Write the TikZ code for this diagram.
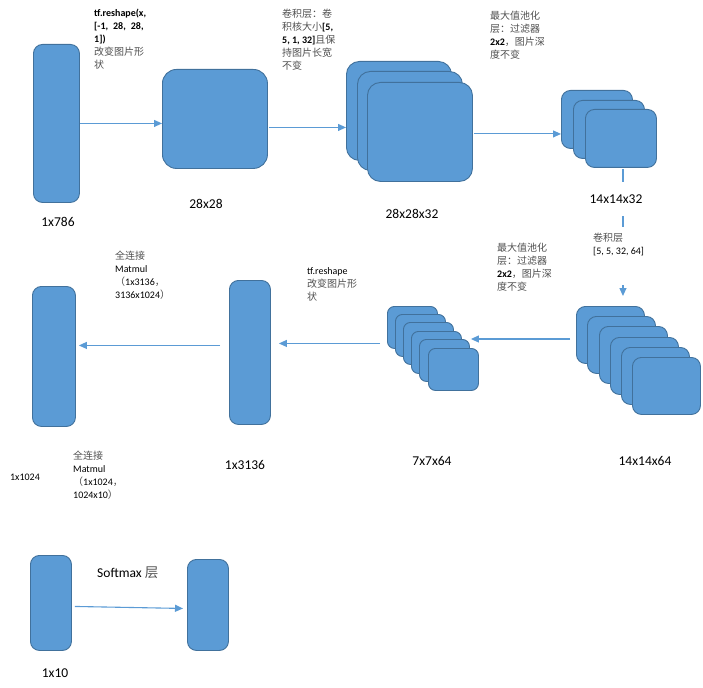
\documentclass[tikz,border=0pt]{standalone}
\usepackage{fontspec}
\setmainfont{Carlito}
\newfontfamily\cjk{Noto Sans CJK SC}
\usetikzlibrary{arrows.meta,calc}
\definecolor{boxfill}{HTML}{5B9BD5}
\definecolor{boxline}{HTML}{41719C}
\definecolor{zhgray}{HTML}{505050}
\newcommand{\zh}[1]{{\cjk\color{zhgray}#1}}
\begin{document}
\begin{tikzpicture}[x=1pt,y=-1pt,
  blk/.style={draw=boxline, fill=boxfill, line width=0.9pt, rounded corners=9pt, anchor=north west, inner sep=0pt},
  arr/.style={draw=boxfill, line width=1.1pt, -{Triangle[length=8pt,width=7pt]}},
  dim/.style={font=\fontsize{13.5}{15}\selectfont, inner sep=1pt},
  note/.style={font=\fontsize{10}{13}\selectfont, align=left, anchor=north west, inner sep=0pt}]
\useasboundingbox (0,0) rectangle (703,687);

% row 1
\node[blk, minimum width=46pt, minimum height=158pt] (b1) at (33,44) {};
\node[blk, rounded corners=14pt, minimum width=105pt, minimum height=99pt] (b2) at (162,69) {};
\node[blk, rounded corners=13pt, minimum width=105pt, minimum height=99pt] (s1a) at (346,61) {};
\node[blk, rounded corners=13pt, minimum width=105pt, minimum height=99pt] (s1b) at (357,71) {};
\node[blk, rounded corners=13pt, minimum width=105pt, minimum height=99pt] (s1c) at (367,82) {};
\node[blk, minimum width=71pt, minimum height=58pt] (s2a) at (561,90) {};
\node[blk, minimum width=71pt, minimum height=58pt] (s2b) at (573,100) {};
\node[blk, minimum width=71pt, minimum height=58pt] (s2c) at (585,109) {};

% row 2
\node[blk, minimum width=68pt, minimum height=57pt] (s3a) at (576,306) {};
\node[blk, minimum width=68pt, minimum height=57pt] (s3b) at (587,316) {};
\node[blk, minimum width=68pt, minimum height=57pt] (s3c) at (599,326) {};
\node[blk, minimum width=68pt, minimum height=57pt] (s3d) at (610,337) {};
\node[blk, minimum width=68pt, minimum height=57pt] (s3e) at (621,347) {};
\node[blk, minimum width=68pt, minimum height=57pt] (s3f) at (632,357) {};
\node[blk, rounded corners=7pt, minimum width=50pt, minimum height=42pt] (s4a) at (387,306) {};
\node[blk, rounded corners=7pt, minimum width=50pt, minimum height=42pt] (s4b) at (395,314) {};
\node[blk, rounded corners=7pt, minimum width=50pt, minimum height=42pt] (s4c) at (403,322) {};
\node[blk, rounded corners=7pt, minimum width=50pt, minimum height=42pt] (s4d) at (411,331) {};
\node[blk, rounded corners=7pt, minimum width=50pt, minimum height=42pt] (s4e) at (419,339) {};
\node[blk, rounded corners=7pt, minimum width=50pt, minimum height=42pt] (s4f) at (428,348) {};
\node[blk, minimum width=41pt, minimum height=144pt] (b5) at (229,280) {};
\node[blk, minimum width=43pt, minimum height=140pt] (b6) at (32,286) {};

% row 3
\node[blk, minimum width=41pt, minimum height=95pt] (b7) at (30,555) {};
\node[blk, minimum width=41pt, minimum height=91pt] (b8) at (187,559) {};

% connectors
\draw[arr] (b1.east) -- (b1.east -| b2.west);
\draw[arr] ($(b2.east)+(1,8.5)$) -- ($(b2.east -| s1a.west)+(0,8.5)$);
\draw[arr] ($(s1c.east)+(1,2)$) -- ($(s1c.east -| s2a.west)+(0,2)$);
\draw[arr, shorten <=1pt, shorten >=10pt] ($(s2c.south)+(2,0)$) -- ($(s2c.south |- s3a.north)+(2,0)$);
\draw[arr] ($(s3a.west |- s4e.north east)+(-6,0)$) -- ($(s4e.north east)+(1,0)$);
\draw[arr] ($(s4a.west |- s4c.west)+(-7,0)$) -- ($(b5.east |- s4c.west)+(8,0)$);
\draw[arr] ($(b5.west)+(-9,-7)$) -- ($(b6.east)+(3,-11)$);
\draw[arr] ($(b7.east)+(3,3.5)$) -- ($(b8.west)+(-4,3.5)$);

% dimension labels
\node[dim] (l1) at (58,222) {1x786};
\node[dim] (l2) at (206,204) {28x28};
\node[dim] (l3) at (412,214) {28x28x32};
\node[dim, fill=white, minimum height=34pt] (l4) at (616,199) {14x14x32};
\node[dim] (l5) at (645,461) {14x14x64};
\node[dim] (l6) at (432,461) {7x7x64};
\node[dim] (l7) at (245,465) {1x3136};
\node[dim, font=\fontsize{10}{12}\selectfont] (l8) at (25,477) {1x1024};
\node[dim] (l9) at (55,673) {1x10};
\node[dim, anchor=west] (l10) at (96,573) {Softmax \zh{层}};

% notes
\node[note] (t1) at (94,8.5) {\bfseries tf.reshape(x,\\{}\bfseries [-1,\enspace 28,\enspace 28,\\\bfseries 1])\\\zh{改变图片形}\\\zh{状}};
\node[note] (t2) at (282,8.5) {\zh{卷积层：卷}\\\zh{积核大小}\textbf{[5,}\\\textbf{5, 1, 32]}\zh{且保}\\\zh{持图片长宽}\\\zh{不变}};
\node[note] (t3) at (490,11) {\zh{最大值池化}\\\zh{层：过滤器}\\\textbf{2x2}\zh{，图片深}\\\zh{度不变}};
\node[note] (t4) at (497,242.5) {\zh{最大值池化}\\\zh{层：过滤器}\\\textbf{2x2}\zh{，图片深}\\\zh{度不变}};
\node[note, fill=white, inner xsep=2pt, inner ysep=6pt, text depth=24pt] (t5) at (591,227) {\zh{卷积层}\\{}[5, 5, 32, 64]};
\node[note] (t6) at (307,267) {tf.reshape\\\zh{改变图片形}\\\zh{状}};
\node[note] (t7) at (115,250.5) {\zh{全连接}\\Matmul\\\zh{（}1x3136\zh{，}\\3136x1024\zh{）}};
\node[note] (t8) at (73,451) {\zh{全连接}\\Matmul\\\zh{（}1x1024\zh{，}\\1024x10\zh{）}};
\end{tikzpicture}
\end{document}
